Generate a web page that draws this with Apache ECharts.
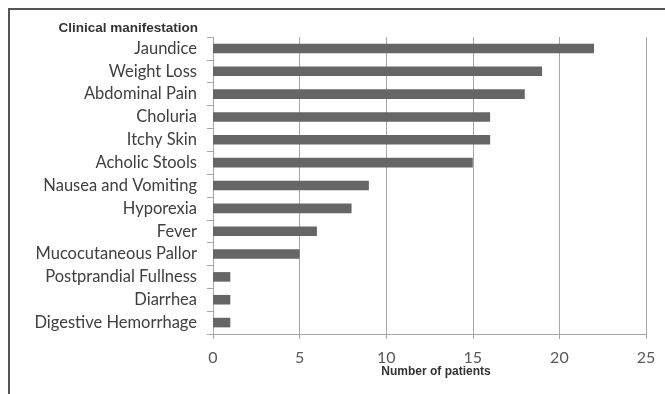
<!DOCTYPE html>
<html>
<head>
<meta charset="utf-8">
<script src="https://cdn.jsdelivr.net/npm/echarts@6/dist/echarts.min.js"></script>
<style>
  html, body { margin: 0; padding: 0; background: #fff; }
  #chart { width: 665px; height: 394px; }
</style>
</head>
<body>
<div id="chart"></div>
<script>
// Symptoms at presentation, listed from most to least frequent
const manifestations = [
  'Jaundice', 'Weight Loss', 'Abdominal Pain', 'Choluria', 'Itchy Skin',
  'Acholic Stools', 'Nausea and Vomiting', 'Hyporexia', 'Fever',
  'Mucocutaneous Pallor', 'Postprandial Fullness', 'Diarrhea', 'Digestive Hemorrhage'
];
const patientCounts = [22, 19, 18, 16, 16, 15, 9, 8, 6, 5, 1, 1, 1];
const countTicks = [0, 5, 10, 15, 20, 25];

const chart = echarts.init(document.getElementById('chart'), null, { renderer: 'canvas' });

const gridColor = '#a6a6a6';
const labelFont = 'Lato, "Open Sans", sans-serif';

chart.setOption({
  animation: false,
  backgroundColor: '#ffffff',
  title: [
    {
      text: 'Clinical manifestation',
      right: 467,
      top: 21,
      padding: 0,
      textStyle: { fontFamily: '"Liberation Sans", Arial, sans-serif', fontWeight: 'bold', fontSize: 13.5, color: '#333333' }
    },
    {
      text: 'Number of patients',
      left: 436,
      textAlign: 'center',
      top: 366,
      padding: 0,
      textStyle: { fontFamily: '"Liberation Sans", Arial, sans-serif', fontWeight: 'bold', fontSize: 12, color: '#333333' }
    }
  ],
  graphic: [
    {
      type: 'polyline',
      shape: { points: [[9, 394], [9, 9], [665, 9]] },
      style: { stroke: '#555555', lineWidth: 2, fill: null },
      silent: true
    }
  ],
  grid: { left: 213, right: 19, top: 37, bottom: 60, containLabel: false },
  xAxis: {
    type: 'value',
    min: countTicks[0],
    max: countTicks[countTicks.length - 1],
    interval: countTicks[1] - countTicks[0],
    axisLine: { show: true, lineStyle: { color: gridColor, width: 1 } },
    axisTick: { show: true, length: 5, lineStyle: { color: gridColor } },
    splitLine: { show: true, lineStyle: { color: gridColor, width: 1 } },
    axisLabel: { margin: 16, fontFamily: labelFont, fontSize: 16, color: '#595959' }
  },
  yAxis: {
    type: 'category',
    data: manifestations,
    inverse: true,
    axisLine: { show: true, lineStyle: { color: gridColor, width: 1 } },
    axisTick: { show: true, length: 6, lineStyle: { color: gridColor } },
    axisLabel: { margin: 16, fontFamily: labelFont, fontSize: 16.5, color: '#404040' }
  },
  series: [
    {
      type: 'bar',
      data: patientCounts,
      barWidth: '42%',
      itemStyle: { color: '#666666' }
    }
  ]
});
</script>
</body>
</html>
